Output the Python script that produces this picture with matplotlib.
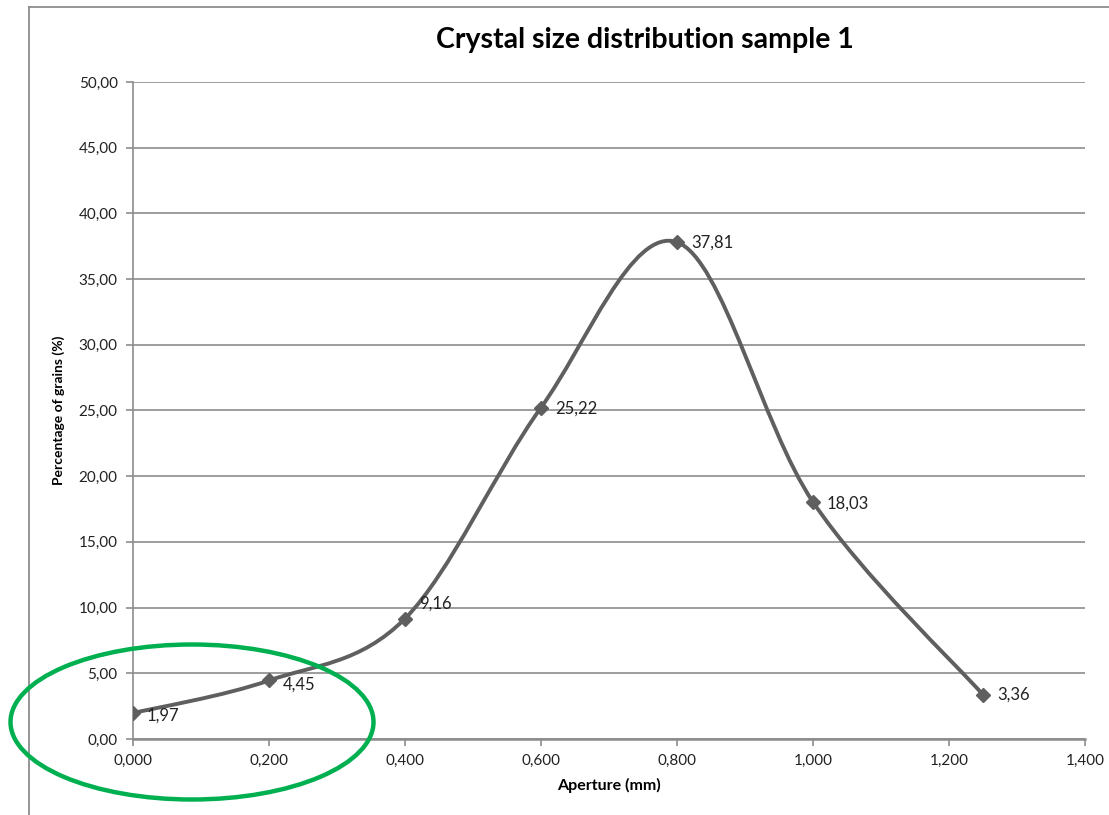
"""Crystal size distribution, sample 1: Excel-style smoothed line with
diamond markers, data labels and a green ellipse round the fine fraction."""
import matplotlib.pyplot as plt
from matplotlib.path import Path
from matplotlib.patches import PathPatch, Ellipse
from matplotlib.lines import Line2D
from matplotlib.ticker import FuncFormatter, MultipleLocator

plt.rcParams['font.family'] = ['Lato', 'DejaVu Sans']

aperture = [0.0, 0.2, 0.4, 0.6, 0.8, 1.0, 1.25]
percent = [1.97, 4.45, 9.16, 25.22, 37.81, 18.03, 3.36]
labels = ['1,97', '4,45', '9,16', '25,22', '37,81', '18,03', '3,36']
# label offsets in points (Excel pushed 9,16 up off the line)
offsets = [(10, -2), (10, -3), (10, 11), (10, -1), (10, 0), (10, -1), (10, 0)]

LINE = '#5f5f5f'
GRID = '#8c8c8c'


def smooth_path(xs, ys, k=1/6):
    # Catmull-Rom as cubic Bezier pieces, the way Excel smooths a line
    n = len(xs)
    verts = [(xs[0], ys[0])]
    codes = [Path.MOVETO]
    for i in range(n - 1):
        a = max(i - 1, 0)
        b = min(i + 2, n - 1)
        c1 = (xs[i] + (xs[i+1] - xs[a]) * k, ys[i] + (ys[i+1] - ys[a]) * k)
        c2 = (xs[i+1] - (xs[b] - xs[i]) * k, ys[i+1] - (ys[b] - ys[i]) * k)
        verts += [c1, c2, (xs[i+1], ys[i+1])]
        codes += [Path.CURVE4] * 3
    return Path(verts, codes)


fig = plt.figure(figsize=(11.09, 8.15), dpi=100)
ax = fig.add_axes([0.1199, 0.0933, 0.8585, 0.8061])

ax.add_patch(PathPatch(smooth_path(aperture, percent), fill=False,
                       ec=LINE, lw=2.8, capstyle='round', zorder=3))
ax.plot(aperture, percent, ls='none', marker='D', ms=7.5, color=LINE, zorder=4)
for x, y, t, off in zip(aperture, percent, labels, offsets):
    ax.annotate(t, (x, y), xytext=off, textcoords='offset points',
                ha='left', va='center', fontsize=12, color='#222222')

ax.set_xlim(0, 1.4)
ax.set_ylim(0, 50)
ax.xaxis.set_major_locator(MultipleLocator(0.2))
ax.yaxis.set_major_locator(MultipleLocator(5))
ax.xaxis.set_major_formatter(FuncFormatter(lambda v, p: f'{v:.3f}'.replace('.', ',')))
ax.yaxis.set_major_formatter(FuncFormatter(lambda v, p: f'{v:.2f}'.replace('.', ',')))
ax.tick_params(labelsize=11, colors=GRID, labelcolor='#222222', length=5,
               width=1.2, pad=6)
ax.grid(axis='y', color=GRID, lw=1.2)
ax.set_axisbelow(True)
for s in ['top', 'right']:
    ax.spines[s].set_visible(False)
for s in ['left', 'bottom']:
    ax.spines[s].set_color(GRID)
ax.spines['left'].set_linewidth(1.2)
ax.spines['bottom'].set_linewidth(1.8)

ax.set_xlabel('Aperture (mm)', fontsize=11.5, fontweight='bold', labelpad=7)
ax.set_ylabel('Percentage of grains (%)', fontsize=10, fontweight='bold', labelpad=10)
fig.text(0.5816, 0.951, 'Crystal size distribution sample 1', ha='center',
         va='center', fontsize=20.5, fontweight='bold')

# chart frame (only top and left edges fall inside the picture)
fig.add_artist(Line2D([29/1109, 1.0], [1 - 7/815] * 2, color=GRID, lw=1.3))
fig.add_artist(Line2D([29/1109] * 2, [0.0, 1 - 7/815], color=GRID, lw=1.3))

fig.add_artist(Ellipse((192/1109, 1 - 722/815), 363/1109, 155/815,
                       transform=fig.transFigure, fill=False, ec='#00b050', lw=3.2,
                       zorder=10))

fig.savefig('out.png', dpi=100)
